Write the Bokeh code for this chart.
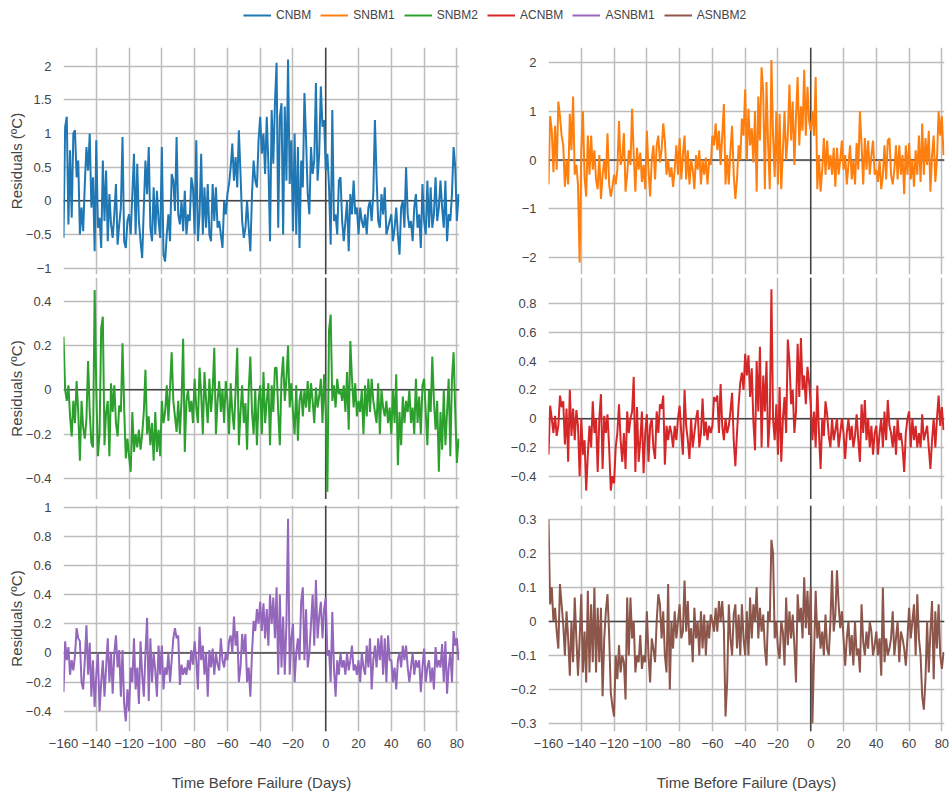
import numpy as np
from bokeh.plotting import figure
from bokeh.layouts import column, row
from bokeh.models import (Range1d, FixedTicker, CustomJSTickFormatter, Span,
                          Legend, LegendItem)
from bokeh.embed import file_html
from bokeh.resources import INLINE

FONT = "Liberation Sans"
INK = "#444444"
GRID = "#bdbdbd"

series_names = ["CNBM", "SNBM1", "SNBM2", "ACNBM", "ASNBM1", "ASNBM2"]
series_colors = ["#1f77b4", "#ff7f0e", "#2ca02c", "#d62728", "#9467bd", "#8c564b"]
x_ticks = [-160, -140, -120, -100, -80, -60, -40, -20, 0, 20, 40, 60, 80]

# daily residuals, one value per day starting at day -160
cnbm = [
    -0.55, 1.1, 1.25, -0.35, 0.75, -0.25, 1.0, 1.05, 0.35, 0.6,
    -0.5, -0.1, -0.45, 0.25, 0.8, 0.45, 1.0, -0.1, 0.35, -0.75,
    0.9, -0.4, -0.25, -0.7, 0.6, -0.3, 0.45, -0.6, 0.1, -0.35,
    -0.55, -0.2, 0.25, -0.65, -0.35, -0.1, 0.95, -0.6, -0.7, -0.3,
    -0.2, -0.5, 0.1, 0.7, -0.5, 0.55, -0.3, -0.6, -0.85, -0.1,
    0.6, 0.1, 0.8, -0.4, -0.6, 0.2, -0.5, 0.15, -0.3, -0.55,
    0.8, -0.8, -0.9, -0.5, -0.2, -0.6, 0.4, 0.3, -0.15, 0.95,
    -0.2, -0.35, 0.0, -0.45, 0.15, -0.5, -0.2, -0.3, 0.35, 0.2,
    -0.5, 0.9, -0.6, -0.2, 0.7, -0.5, 0.2, -0.4, 0.25, -0.5,
    -0.6, 0.25, -0.3, 0.2, -0.4, -0.3, -0.5, -0.7, 0.0, -0.2,
    0.1, 0.25, 0.5, 0.85, 0.3, 0.65, 0.2, 1.05, 0.4, -0.3,
    -0.55, -0.4, 0.0, -0.4, -0.75, 0.1, 0.6, 0.3, 0.2, 0.9,
    1.25, 0.7, 1.0, 0.4, 1.25, 0.55, -0.6, 1.35, 0.55, 1.45,
    2.05, -0.4, 1.25, 1.45, -0.5, 1.4, 0.3, 2.1, 0.25, 0.9,
    -0.45, 1.0, -0.5, 0.8, -0.7, 0.6, 0.2, 1.6, 0.9, 0.1,
    -0.2, 0.8, 0.4, 0.6, 1.75, 0.3, 0.7, 1.7, 1.1, 1.2,
    0.45, 0.7, 0.2, -0.65, 1.35, -0.3, -0.2, -0.5, 0.3, 0.35,
    -0.3, -0.6, -0.3, 0.0, -0.75, 0.1, -0.2, 0.3, -0.2, -0.1,
    -0.5, -0.1, -0.3, -0.4, -0.2, -0.5, -0.1, 0.0, -0.3, 0.1,
    1.2, 0.35, -0.3, -0.4, 0.1, -0.2, 0.2, -0.5, -0.4, -0.3,
    -0.2, -0.6, -0.4, -0.1, -0.5, -0.8, -0.1, 0.0, -0.4, 0.5,
    -0.2, -0.4, -0.3, -0.6, -0.1, 0.1, -0.4, -0.2, -0.7, 0.25,
    -0.3, -0.5, 0.3, -0.4, 0.2, -0.4, -0.2, 0.35, -0.3, -0.1,
    0.3, -0.1, -0.4, 0.3, -0.6, -0.2, -0.3, 0.1, 0.8, 0.5,
    -0.3, 0.1,
]

snbm1 = [
    -0.5, 0.9, 0.6, -0.25, 0.7, -0.2, 1.2, 0.9, 0.5, 0.3,
    -0.55, 0.0, -0.5, 0.95, 0.2, 1.3, -0.3, -0.1, -0.5, -2.1,
    0.2, 1.0, -0.35, -0.75, 0.5, -0.3, 0.5, -0.2, 0.2, -0.4,
    -0.6, 0.1, -0.8, -0.3, 0.0, -0.4, 0.55, -0.5, -0.75, -0.55,
    -0.3, -0.5, -0.2, 0.8, -0.1, 0.05, 0.55, -0.65, -0.3, 0.2,
    -0.1, 1.05, 0.1, -0.65, 0.25, -0.2, 0.15, -0.45, -0.1, -0.6,
    0.6, -0.2, -0.75, 0.0, 0.3, -0.4, 0.3, 0.5, -0.05, 0.2,
    0.75, 0.4, -0.3, 0.0, -0.35, -0.15, -0.55, -0.2, 0.3, -0.3,
    0.45, -0.4, 0.1, 0.5, -0.4, 0.2, -0.5, 0.0, -0.2, -0.6,
    0.1, -0.2, 0.2, -0.5, 0.0, -0.3, 0.05, -0.5, 0.0, -0.1,
    0.5, 0.3, 0.75, 0.2, 0.6, -0.1, 0.5, 1.15, -0.5, 0.1,
    -0.5, 0.2, 0.7, -0.3, -0.8, -0.4, 0.3, 0.0, 0.85, 0.5,
    1.45, 0.0, 1.05, 0.3, 0.65, -0.05, 1.0, -0.65, 1.3, 0.4,
    1.9, 1.4, -0.6, 1.6, 0.3, -0.6, 2.05, 0.5, -0.35, 1.0,
    -0.5, 0.95, -0.6, 0.2, 1.0, 0.0, 0.5, 1.55, 0.4, 1.2,
    -0.1, 0.9, 1.7, 0.3, 1.1, 0.6, 1.85, 0.5, 1.5, 0.8,
    0.6, 1.0, 0.5, 1.7, -0.6, 0.1, -0.65, -0.2, 0.45, -0.3,
    0.4, -0.2, 0.1, -0.3, 0.25, -0.55, 0.25, -0.3, 0.0, 0.4,
    -0.2, 0.1, -0.5, -0.1, 0.3, -0.4, 0.0, -0.5, 0.35, -0.2,
    1.0, 0.3, -0.5, 0.45, -0.2, 0.4, -0.3, 0.1, 0.4, -0.3,
    -0.2, -0.45, 0.0, -0.6, -0.3, 0.3, -0.4, 0.4, 0.45, -0.3,
    -0.5, -0.2, 0.3, -0.4, 0.3, -0.3, 0.1, -0.7, 0.3, -0.3,
    0.35, -0.4, 0.0, -0.55, 0.2, -0.3, 0.5, -0.45, 0.75, -0.3,
    0.45, -0.1, 0.6, -0.65, 0.1, 0.5, -0.45, 0.0, 1.0, 0.5,
    0.9, 0.1,
]

snbm2 = [
    0.24, 0.0, -0.05, 0.02, -0.12, -0.21, -0.05, -0.15, 0.04, -0.1,
    -0.32, -0.05, -0.17, -0.22, -0.13, 0.13, -0.1, -0.24, -0.26, 0.45,
    0.0, -0.3, -0.2, 0.28, 0.33, -0.25, -0.1, -0.05, -0.3, 0.03,
    -0.1, 0.02, -0.15, -0.21, -0.07, -0.1, 0.21, -0.08, -0.31, -0.22,
    -0.3, -0.37, -0.1, -0.28, -0.2, -0.26, -0.18, -0.27, -0.2, -0.1,
    0.09, -0.2, -0.12, -0.25, -0.15, -0.32, -0.1, -0.28, -0.18, -0.3,
    -0.05, -0.15, -0.1, 0.02, -0.14, 0.01, 0.17, -0.05, -0.12, -0.19,
    -0.05, -0.2, -0.05, 0.23, -0.28, -0.05, 0.0, -0.1, -0.05, -0.15,
    0.05, -0.08, -0.15, 0.1, -0.02, -0.2, 0.08, -0.05, -0.15, 0.05,
    -0.1, 0.0, 0.19, -0.2, -0.05, 0.04, -0.1, 0.0, -0.15, 0.04,
    -0.05, -0.2, 0.03, -0.1, -0.18, 0.0, 0.19, -0.25, -0.1, 0.02,
    -0.15, -0.06, -0.27, 0.0, 0.15, -0.1, -0.2, 0.0, -0.25, -0.05,
    0.02, -0.2, 0.08, -0.15, -0.05, 0.03, -0.25, 0.02, -0.1, 0.1,
    0.1, -0.1, -0.25, 0.05, 0.15, -0.05, 0.05, 0.2, -0.08, 0.03,
    -0.1, -0.2, 0.02, -0.23, -0.05, 0.0, -0.12, 0.0, -0.08, 0.04,
    -0.1, 0.03, -0.05, -0.15, 0.01, -0.08, -0.03, 0.05, -0.15, 0.07,
    -0.1, -0.46, 0.27, 0.34, -0.05, 0.02, -0.08, 0.05, -0.02, 0.0,
    -0.05, 0.02, -0.1, 0.08, -0.18, 0.22, 0.05, -0.08, 0.03, -0.12,
    -0.05, -0.1, 0.0, -0.2, 0.02, -0.12, 0.05, -0.1, 0.05, -0.05,
    -0.1, -0.15, 0.03, -0.2, 0.0, -0.08, -0.12, -0.05, -0.15, -0.08,
    -0.2, 0.0, -0.15, 0.07, -0.34, -0.1, -0.25, -0.03, -0.15, -0.05,
    -0.1, 0.0, -0.15, -0.08, -0.2, 0.05, -0.15, -0.03, -0.2, 0.02,
    0.05, -0.1, -0.25, 0.0, -0.1, 0.15, -0.05, -0.18, -0.05, -0.37,
    -0.1, -0.27, 0.0, -0.25, -0.1, 0.05, -0.3, 0.05, 0.17, -0.1,
    -0.33, -0.22,
]

acnbm = [
    -0.25, 0.09, 0.0, -0.1, 0.02, -0.12, -0.05, 0.16, 0.08, 0.12,
    -0.18, 0.07, -0.3, 0.2, -0.12, 0.07, -0.15, 0.06, -0.05, -0.4,
    0.0, -0.25, -0.15, -0.5, -0.25, -0.05, -0.2, 0.12, -0.1, 0.0,
    -0.37, 0.0, 0.17, -0.35, 0.02, -0.1, 0.03, -0.2, -0.5, -0.4,
    -0.45, -0.2, -0.1, 0.1, -0.15, -0.3, -0.1, -0.35, 0.05, -0.1,
    0.0, 0.05, 0.29, -0.37, 0.08, -0.3, -0.15, 0.05, -0.38, -0.1,
    0.03, -0.3, -0.05, 0.0, -0.2, -0.28, 0.05, -0.1, 0.1, 0.07,
    0.16, -0.32, -0.05, -0.15, -0.05, -0.1, -0.2, -0.05, -0.15, 0.0,
    0.09, -0.1, -0.25, 0.2, -0.05, -0.15, -0.28, 0.0, -0.2, -0.1,
    0.0, 0.06, -0.2, -0.1, 0.14, -0.12, -0.02, -0.15, -0.05, -0.1,
    -0.05, 0.15, 0.12, 0.16, -0.1, 0.24, -0.05, -0.15, 0.0, -0.1,
    -0.05, 0.05, 0.18, -0.15, -0.33, -0.1, 0.1, 0.25, 0.32, 0.2,
    0.45, 0.3, 0.44, 0.15, 0.35, -0.02, -0.22, 0.4, 0.05, 0.5,
    -0.2, 0.3, 0.05, 0.4, -0.2, 0.0, 0.9, 0.0, -0.15, 0.1,
    -0.25, 0.22, -0.3, 0.0, 0.15, -0.1, 0.55, 0.4, 0.1, 0.2,
    -0.1, 0.05, 0.52, 0.15, 0.56, 0.2, 0.3, 0.1, 0.36, 0.25,
    0.1, -0.15, 0.05, -0.2, 0.23, -0.1, -0.35, 0.0, -0.12, 0.12,
    0.03, -0.12, -0.2, 0.0, -0.15, -0.08, 0.0, -0.2, -0.1, 0.0,
    -0.1, -0.28, -0.1, 0.0, -0.15, -0.05, -0.2, -0.12, 0.03, -0.15,
    -0.3, 0.1, -0.1, 0.13, -0.15, 0.0, -0.2, -0.05, -0.25, -0.1,
    -0.05, -0.25, -0.1, 0.0, -0.2, 0.05, -0.15, 0.13, -0.05, -0.1,
    -0.2, -0.05, -0.25, 0.0, -0.15, -0.1, -0.2, -0.37, -0.1, 0.0,
    0.05, -0.2, 0.0, -0.15, -0.05, -0.2, -0.1, -0.2, 0.03, -0.15,
    -0.1, -0.05, -0.2, -0.35, -0.15, 0.0, -0.2, 0.0, 0.16, -0.05,
    0.08, -0.08,
]

asnbm1 = [
    -0.27, 0.08, -0.05, 0.04, -0.15, -0.05, -0.12, -0.02, 0.17, 0.1,
    0.08, -0.2, -0.25, -0.05, 0.19, -0.15, 0.07, -0.3, -0.05, -0.37,
    -0.15, 0.0, -0.4, -0.2, -0.05, -0.3, -0.1, 0.1, -0.2, 0.0,
    -0.28, 0.0, 0.12, -0.1, 0.02, -0.3, 0.02, -0.35, -0.47, -0.25,
    -0.4, -0.1, -0.2, 0.1, -0.25, -0.1, -0.35, 0.08, -0.15, -0.3,
    0.0, 0.24, -0.33, 0.1, -0.2, 0.0, -0.12, -0.3, 0.05, -0.15,
    0.05, -0.25, -0.1, -0.15, 0.0, -0.2, -0.05, 0.1, 0.17, 0.1,
    0.12, -0.22, -0.08, -0.15, -0.1, -0.15, -0.05, -0.12, 0.02, -0.08,
    0.08, -0.05, -0.25, 0.18, -0.05, 0.05, -0.15, 0.0, -0.3, 0.02,
    -0.1, 0.03, -0.15, 0.0, -0.08, -0.12, 0.1, -0.05, -0.1, 0.0,
    -0.05, 0.08, 0.12, 0.0, 0.25, 0.05, 0.15, -0.2, -0.1, 0.13,
    0.0, 0.13, -0.2, -0.1, -0.3, 0.0, 0.22, 0.15, 0.3, 0.2,
    0.35, 0.15, 0.34, 0.1, 0.3, 0.05, 0.4, 0.2, 0.38, 0.1,
    0.45, -0.15, 0.4, -0.1, 0.25, -0.15, 0.2, 0.92, -0.15, 0.1,
    0.2, -0.2, 0.0, 0.1, -0.05, 0.35, 0.45, -0.05, 0.3, -0.1,
    0.0, 0.2, 0.4, 0.05, 0.5, 0.1, 0.25, 0.35, 0.1, 0.3,
    0.38, -0.02, 0.02, -0.2, 0.28, -0.1, -0.3, -0.05, -0.15, 0.0,
    -0.1, -0.05, -0.15, 0.0, -0.12, -0.05, 0.05, -0.12, -0.08, -0.15,
    -0.05, -0.2, 0.0, -0.1, -0.15, 0.05, -0.1, 0.1, -0.25, -0.05,
    0.05, -0.1, 0.1, -0.05, 0.12, -0.15, 0.1, -0.2, 0.12, -0.05,
    -0.05, -0.2, -0.1, -0.25, -0.05, 0.0, -0.1, 0.05, -0.05, 0.05,
    -0.1, -0.2, -0.1, 0.0, -0.15, -0.05, -0.1, -0.05, -0.27, -0.1,
    0.03, -0.2, -0.1, -0.05, -0.2, -0.1, -0.25, 0.04, -0.1, -0.05,
    -0.1, 0.06, -0.2, 0.08, -0.28, -0.1, 0.0, -0.2, 0.15, 0.05,
    0.1, -0.05,
]

asnbm2 = [
    0.3, 0.05, 0.1, 0.0, 0.04, -0.03, -0.08, 0.11, 0.05, -0.01,
    -0.1, 0.03, -0.05, -0.16, 0.0, -0.12, 0.07, -0.05, -0.16, -0.05,
    0.08, -0.15, -0.03, -0.18, 0.09, -0.15, 0.05, -0.12, 0.1, -0.15,
    0.04, -0.12, 0.04, -0.22, -0.05, 0.03, 0.08, -0.04, -0.21, -0.25,
    -0.28, -0.1, -0.17, -0.07, -0.15, -0.1, -0.12, -0.23, 0.07, -0.1,
    0.07, -0.05, 0.0, -0.15, -0.1, -0.12, -0.04, -0.14, -0.1, -0.12,
    0.03, -0.1, -0.18, -0.05, -0.08, -0.12, 0.0, 0.08, 0.05, -0.05,
    0.03, -0.1, -0.15, 0.11, -0.2, 0.0, -0.08, 0.03, -0.05, 0.0,
    0.05, -0.05, -0.03, 0.12, -0.03, 0.06, -0.07, -0.02, -0.12, 0.04,
    -0.05, 0.0, -0.1, 0.03, -0.08, 0.02, -0.1, 0.0, -0.05, 0.02,
    0.0, -0.03, 0.04, -0.03, 0.06, 0.0, 0.06, -0.02, -0.28, -0.18,
    0.05, -0.05, -0.1, 0.02, 0.05, -0.08, 0.02, -0.1, 0.05, -0.05,
    -0.1, 0.03, -0.1, 0.07, -0.05, 0.05, 0.0, 0.1, -0.05, 0.04,
    -0.03, 0.02, -0.08, -0.13, 0.03, 0.0, 0.24, 0.2, -0.05, 0.0,
    -0.08, -0.11, 0.0, -0.03, -0.13, 0.07, -0.07, 0.03, -0.05, 0.02,
    -0.07, -0.18, 0.08, 0.0, 0.04, -0.05, 0.13, -0.02, 0.09, -0.04,
    0.1, -0.3, -0.1, 0.09, -0.05, 0.0, -0.08, -0.03, -0.1, 0.02,
    -0.08, -0.1, 0.0, 0.15, -0.03, 0.02, 0.15, 0.05, -0.02, 0.03,
    -0.05, -0.13, -0.05, 0.0, -0.1, -0.04, -0.13, 0.0, -0.1, -0.08,
    -0.15, 0.05, -0.06, -0.1, -0.03, -0.08, 0.0, -0.03, -0.1, -0.07,
    -0.03, -0.1, -0.05, -0.16, 0.1, -0.12, -0.05, -0.1, -0.08, -0.05,
    0.03, -0.1, -0.05, 0.0, -0.12, -0.03, -0.05, -0.08, -0.13, -0.05,
    0.04, -0.05, 0.0, 0.05, -0.1, 0.08, -0.05, -0.1, -0.22, -0.26,
    -0.17, 0.0, -0.15, -0.03, 0.06, -0.17, 0.03, -0.08, 0.05, -0.1,
    -0.14, -0.09,
]

series_values = [cnbm, snbm1, snbm2, acnbm, asnbm1, asnbm2]

y_ticks = {
    "CNBM": [-1, -0.5, 0, 0.5, 1, 1.5, 2],
    "SNBM1": [-2, -1, 0, 1, 2],
    "SNBM2": [-0.4, -0.2, 0, 0.2, 0.4],
    "ACNBM": [-0.4, -0.2, 0, 0.2, 0.4, 0.6, 0.8],
    "ASNBM1": [-0.4, -0.2, 0, 0.2, 0.4, 0.6, 0.8, 1],
    "ASNBM2": [-0.3, -0.2, -0.1, 0, 0.1, 0.2, 0.3],
}
y_limits = {
    "CNBM": (-1.094, 2.278),
    "SNBM1": (-2.349, 2.308),
    "SNBM2": (-0.495, 0.507),
    "ACNBM": (-0.562, 0.981),
    "ASNBM1": (-0.539, 1.011),
    "ASNBM2": (-0.324, 0.341),
}
X_LIMITS = (-160, 81.6)
FRAME_W = 396

MINUS_JS = """
const v = Math.round(tick * 1000) / 1000;
return (v < 0 ? "\u2212" : "") + Math.abs(v).toString();
"""


def style_axis(ax):
    ax.axis_line_color = None
    ax.major_tick_line_color = None
    ax.minor_tick_line_color = None
    ax.major_label_text_font = FONT
    ax.major_label_text_font_size = "13px"
    ax.major_label_text_color = INK
    ax.axis_label_text_font = FONT
    ax.axis_label_text_font_size = "15px"
    ax.axis_label_text_font_style = "normal"
    ax.axis_label_text_color = INK
    ax.formatter = CustomJSTickFormatter(code=MINUS_JS)


def panel(idx, left, right, top, frame_h, bottom, bottom_row, first_col):
    name = series_names[idx]
    vals = series_values[idx]
    days = np.arange(-160, -160 + len(vals))
    p = figure(width=left + FRAME_W + right, height=top + frame_h + bottom,
               x_range=Range1d(*X_LIMITS), y_range=Range1d(*y_limits[name]),
               output_backend="svg", toolbar_location=None, title=None,
               min_border_left=left, min_border_right=right,
               min_border_top=top, min_border_bottom=bottom)
    p.outline_line_color = None
    p.background_fill_color = "white"
    p.border_fill_color = "white"

    p.xaxis.ticker = FixedTicker(ticks=x_ticks)
    p.xgrid.ticker = FixedTicker(ticks=x_ticks)
    p.yaxis.ticker = FixedTicker(ticks=y_ticks[name])
    p.ygrid.ticker = FixedTicker(ticks=y_ticks[name])
    for g in (p.xgrid, p.ygrid):
        g.grid_line_color = GRID
        g.grid_line_width = 1.5

    style_axis(p.xaxis[0])
    style_axis(p.yaxis[0])
    p.yaxis.major_label_standoff = 6
    if first_col:
        p.yaxis.axis_label = "Residuals (ºC)"
        p.yaxis.axis_label_standoff = -2
    if bottom_row:
        p.xaxis.major_label_standoff = 1
        p.xaxis.axis_label = "Time Before Failure (Days)"
        p.xaxis.axis_label_standoff = 23
    else:
        p.xaxis.visible = False

    for dim in ("width", "height"):
        p.add_layout(Span(location=0, dimension=dim, line_color=INK,
                          line_width=1.5, level="underlay"))

    p.line(days, vals, line_color=series_colors[idx], line_width=2)
    return p


# rows: (top border, frame height, bottom border)
rows_geom = [(0, 227, 2), (1, 222, 0), (6, 226, 65)]
left_col, right_col = [], []
for r, (top, fh, bot) in enumerate(rows_geom):
    last = r == len(rows_geom) - 1
    left_col.append(panel(2 * r, 63, 20, top, fh, bot, last, True))
    right_col.append(panel(2 * r + 1, 69, 5, top, fh, bot, last, False))

# legend strip across the top; its line renderers sit outside the visible range
leg = figure(width=949, height=47, x_range=Range1d(0, 1), y_range=Range1d(0, 1),
             output_backend="svg", toolbar_location=None, title=None,
             x_axis_location=None, y_axis_location=None, min_border=0)
leg.grid.visible = False
leg.outline_line_color = None
items = []
for n, c in zip(series_names, series_colors):
    rend = leg.line(x=[-5, -4], y=[-5, -5], line_color=c, line_width=2)
    items.append(LegendItem(label=n, renderers=[rend]))
legend = Legend(items=items, orientation="horizontal", location=(243, 24),
                label_text_font=FONT, label_text_font_size="12px",
                label_text_color=INK, glyph_width=28, glyph_height=16,
                label_height=16, label_standoff=5, spacing=9, padding=0,
                margin=0, border_line_color=None, background_fill_alpha=0)
leg.add_layout(legend, "center")

layout = column(leg, row(column(*left_col), column(*right_col)))

with open("out.html", "w", encoding="utf-8") as f:
    f.write(file_html(layout, INLINE))
